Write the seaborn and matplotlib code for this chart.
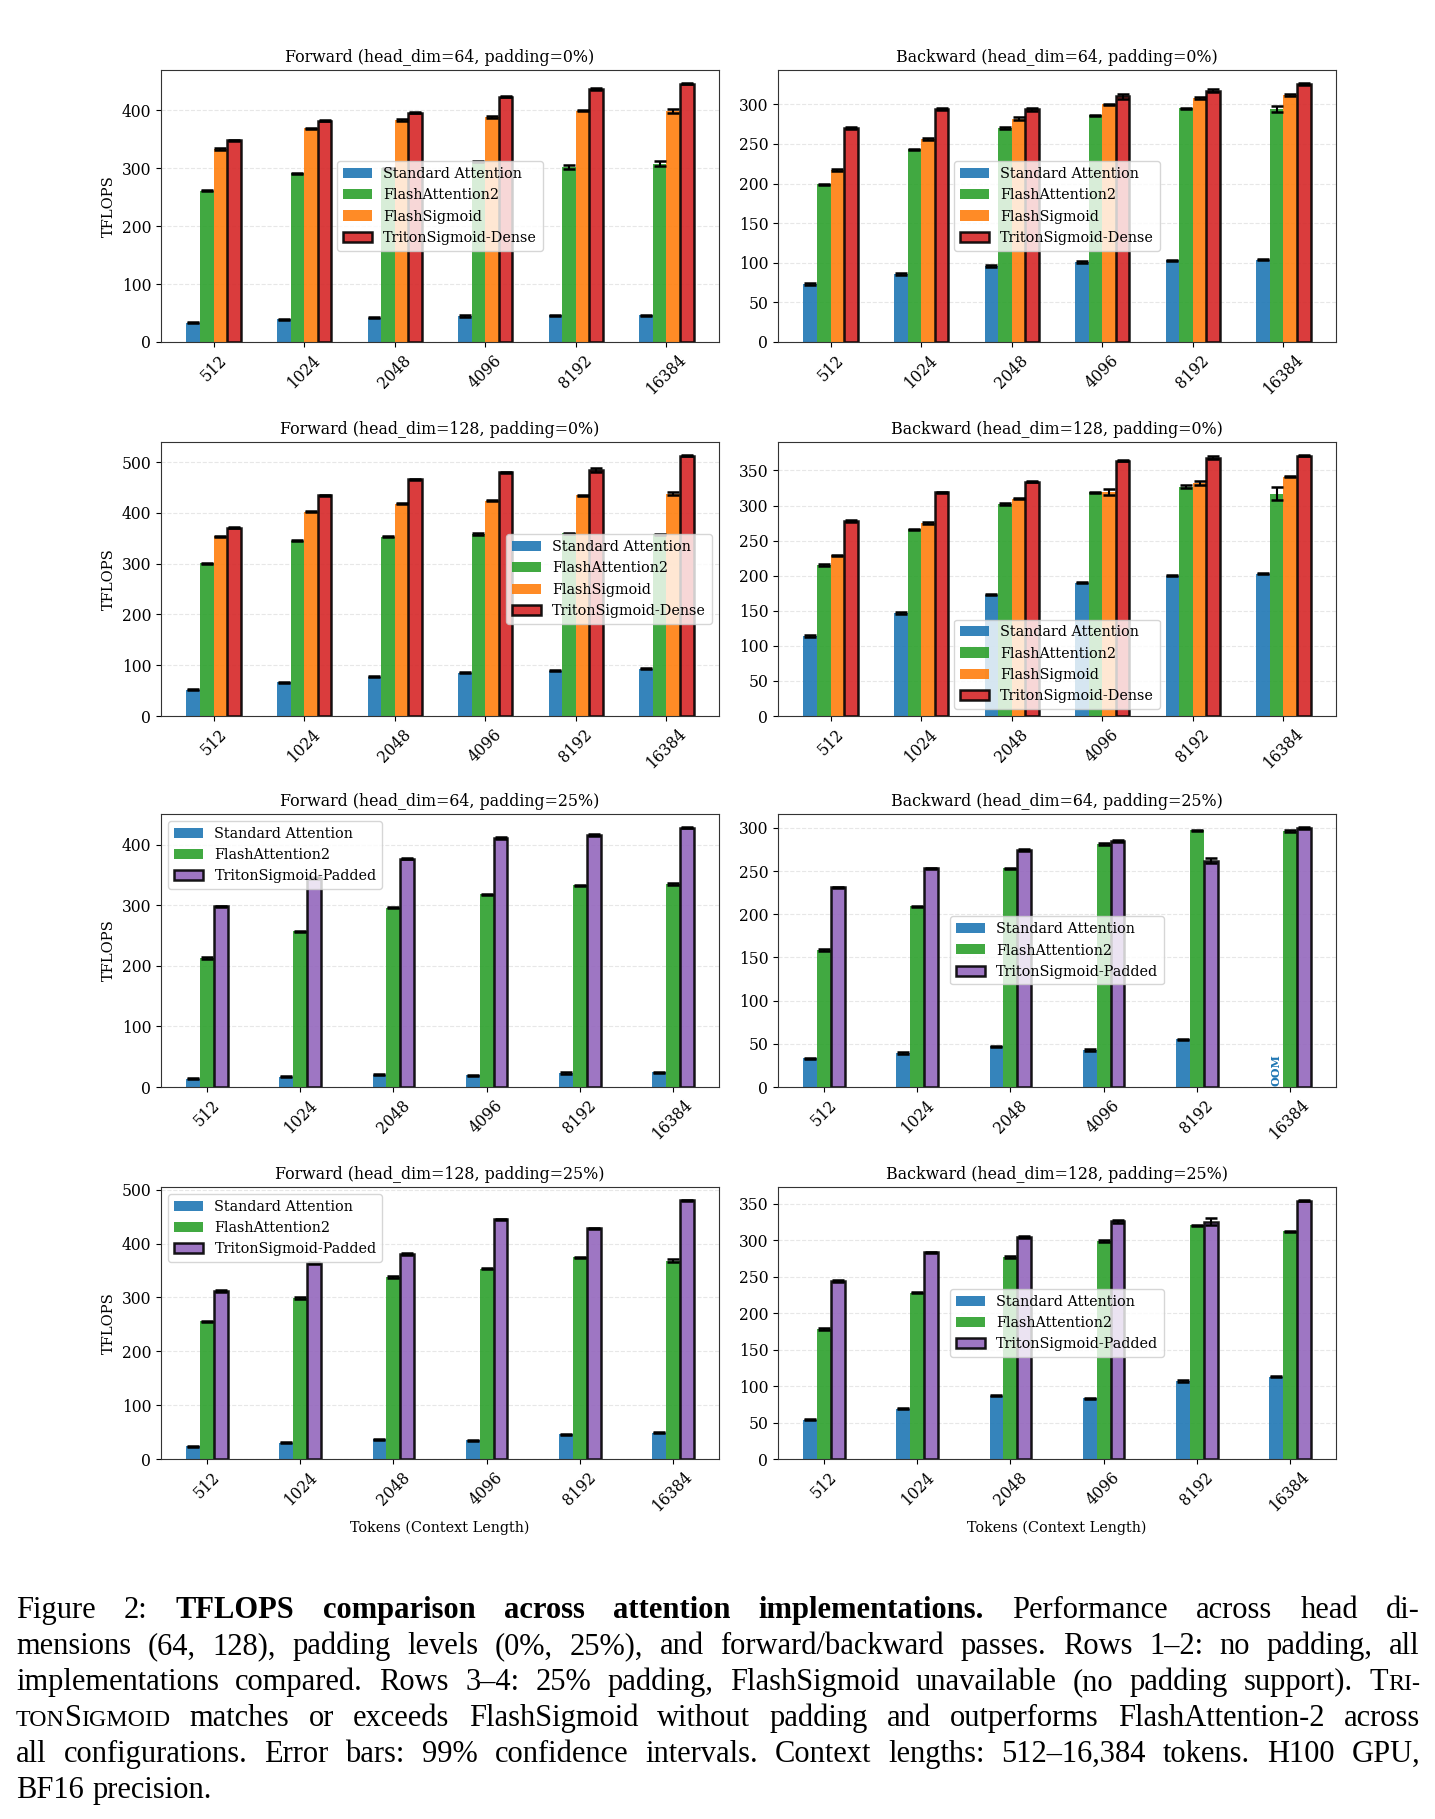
import numpy as np
import pandas as pd
import seaborn as sns
import matplotlib.pyplot as plt
from matplotlib.patches import Patch

# ---- data (TFLOPS) ----
tokens = ["512", "1024", "2048", "4096", "8192", "16384"]

impls_dense = ["Standard Attention", "FlashAttention2", "FlashSigmoid", "TritonSigmoid-Dense"]
impls_padded = ["Standard Attention", "FlashAttention2", "TritonSigmoid-Padded"]
colors_dense = ["#1f77b4", "#2ca02c", "#ff7f0e", "#d62728"]
colors_padded = ["#1f77b4", "#2ca02c", "#9467bd"]

# Forward, head_dim=64, padding=0%
fwd64_p0_std = [33, 39, 42, 45, 46, 46]
fwd64_p0_fa2 = [261, 291, 300, 311, 302, 308]
fwd64_p0_fs = [333, 369, 383, 388, 399, 399]
fwd64_p0_triton = [348, 382, 396, 423, 437, 446]
fwd64_p0_std_err = [1, 1, 1, 1, 1, 1]
fwd64_p0_fa2_err = [1, 1, 1, 1, 3, 4]
fwd64_p0_fs_err = [1, 1, 1, 2, 1, 3]
fwd64_p0_triton_err = [1, 1, 1, 1, 2, 1]

# Backward, head_dim=64, padding=0%
bwd64_p0_std = [73, 86, 96, 101, 103, 104]
bwd64_p0_fa2 = [199, 243, 270, 286, 295, 294]
bwd64_p0_fs = [217, 256, 282, 300, 308, 312]
bwd64_p0_triton = [270, 294, 294, 310, 317, 326]
bwd64_p0_std_err = [1, 1, 1, 1, 1, 1]
bwd64_p0_fa2_err = [1, 1, 1, 1, 1, 4]
bwd64_p0_fs_err = [1, 1, 2, 1, 1, 1]
bwd64_p0_triton_err = [1, 1, 2, 3, 2, 1]

# Forward, head_dim=128, padding=0%
fwd128_p0_std = [52, 66, 77, 85, 89, 93]
fwd128_p0_fa2 = [301, 345, 353, 358, 360, 358]
fwd128_p0_fs = [354, 402, 418, 424, 435, 438]
fwd128_p0_triton = [371, 435, 466, 480, 485, 513]
fwd128_p0_std_err = [1, 1, 1, 1, 1, 1]
fwd128_p0_fa2_err = [1, 1, 1, 2, 1, 1]
fwd128_p0_fs_err = [1, 1, 1, 1, 1, 3]
fwd128_p0_triton_err = [1, 1, 1, 1, 4, 1]

# Backward, head_dim=128, padding=0%
bwd128_p0_std = [114, 147, 173, 190, 200, 203]
bwd128_p0_fa2 = [215, 266, 302, 319, 327, 317]
bwd128_p0_fs = [229, 275, 310, 319, 332, 341]
bwd128_p0_triton = [278, 319, 334, 364, 368, 371]
bwd128_p0_std_err = [1, 1, 1, 1, 1, 1]
bwd128_p0_fa2_err = [1, 1, 1, 1, 2, 9]
bwd128_p0_fs_err = [1, 1, 1, 4, 3, 1]
bwd128_p0_triton_err = [1, 1, 1, 1, 2, 1]

# Forward, head_dim=64, padding=25%
fwd64_p25_std = [14, 17, 20, 19, 23, 24]
fwd64_p25_fa2 = [213, 257, 296, 318, 333, 335]
fwd64_p25_triton = [298, 345, 377, 411, 416, 428]
fwd64_p25_std_err = [1, 1, 1, 1, 1, 1]
fwd64_p25_fa2_err = [1, 1, 1, 1, 1, 2]
fwd64_p25_triton_err = [1, 1, 1, 1, 2, 1]

# Backward, head_dim=64, padding=25% (Standard Attention OOM at 16384)
bwd64_p25_std = [33, 39, 47, 43, 55, np.nan]
bwd64_p25_fa2 = [159, 209, 253, 281, 297, 296]
bwd64_p25_triton = [231, 253, 274, 285, 262, 300]
bwd64_p25_std_err = [1, 1, 1, 1, 1, np.nan]
bwd64_p25_fa2_err = [1, 1, 1, 1, 1, 1]
bwd64_p25_triton_err = [1, 1, 1, 1, 3, 1]

# Forward, head_dim=128, padding=25%
fwd128_p25_std = [24, 30, 37, 35, 46, 49]
fwd128_p25_fa2 = [256, 299, 338, 353, 375, 368]
fwd128_p25_triton = [312, 364, 380, 445, 428, 480]
fwd128_p25_std_err = [1, 1, 1, 1, 1, 1]
fwd128_p25_fa2_err = [1, 1, 1, 1, 1, 3]
fwd128_p25_triton_err = [1, 1, 2, 1, 1, 1]

# Backward, head_dim=128, padding=25%
bwd128_p25_std = [54, 69, 87, 83, 107, 113]
bwd128_p25_fa2 = [178, 228, 277, 299, 320, 312]
bwd128_p25_triton = [244, 283, 304, 326, 325, 354]
bwd128_p25_std_err = [1, 1, 1, 1, 1, 1]
bwd128_p25_fa2_err = [1, 1, 1, 1, 1, 1]
bwd128_p25_triton_err = [1, 1, 1, 2, 5, 1]

W, H = 1435, 1819
plt.rcParams["font.family"] = ["DejaVu Serif"]
plt.rcParams["font.size"] = 11
plt.rcParams["axes.edgecolor"] = "#333333"
fig = plt.figure(figsize=(W / 100, H / 100), dpi=100)


def panel_axes(col, row):
    # pixel boxes of the 2x4 grid
    lefts = [161, 778]
    tops = [70, 442, 814, 1187]
    bottoms = [342, 716, 1087, 1459]
    x0 = lefts[col] / W
    y0 = 1 - bottoms[row] / H
    return fig.add_axes([x0, y0, 558 / W, (bottoms[row] - tops[row]) / H])


def draw_panel(ax, title, names, colors, values, errors, loc):
    rows = []
    for name, vals in zip(names, values):
        for tok, v in zip(tokens, vals):
            rows.append({"tokens": tok, "impl": name, "tflops": v})
    df = pd.DataFrame(rows)
    df["height"] = df["tflops"].fillna(0)
    sns.barplot(data=df, x="tokens", y="height", hue="impl", order=tokens,
                hue_order=names, palette=colors, width=0.15 * len(names),
                saturation=1, alpha=0.9, linewidth=0, errorbar=None,
                legend=False, ax=ax)
    bars = list(ax.containers)
    for cont, name, vals, errs in zip(bars, names, values, errors):
        xs = np.array([p.get_x() + p.get_width() / 2 for p in cont.patches])
        if name.startswith("Triton"):
            for p in cont.patches:
                p.set_edgecolor("black")
                p.set_linewidth(1.8)
        ys = np.array(vals, dtype=float)
        es = np.array(errs, dtype=float)
        ok = ~np.isnan(ys)
        ax.errorbar(xs[ok], ys[ok], yerr=es[ok], fmt="none", ecolor="black",
                    elinewidth=1.5, capsize=4.5, capthick=1.8, zorder=5)
        for x, v in zip(xs, ys):
            if np.isnan(v):
                ax.text(x, 1, "OOM", rotation=90, color="#1f77b4", fontsize=8,
                        fontweight="bold", ha="center", va="bottom")
    handles = []
    for name, c in zip(names, colors):
        if name.startswith("Triton"):
            handles.append(Patch(facecolor=c, alpha=0.9, edgecolor="black", linewidth=1.8, label=name))
        else:
            handles.append(Patch(facecolor=c, alpha=0.9, label=name))
    ax.legend(handles=handles, loc=loc, fontsize=10.4)
    ax.set_title(title, fontsize=11.4)
    ax.yaxis.grid(True, linestyle="--", alpha=0.3)
    ax.set_axisbelow(True)
    ax.tick_params(axis="x", rotation=45)
    ax.tick_params(labelsize=11.2)
    ax.set_xlabel("")
    ax.set_ylabel("")


panels = [
    (0, 0, "Forward (head_dim=64, padding=0%)", impls_dense, colors_dense,
     [fwd64_p0_std, fwd64_p0_fa2, fwd64_p0_fs, fwd64_p0_triton],
     [fwd64_p0_std_err, fwd64_p0_fa2_err, fwd64_p0_fs_err, fwd64_p0_triton_err], "center"),
    (1, 0, "Backward (head_dim=64, padding=0%)", impls_dense, colors_dense,
     [bwd64_p0_std, bwd64_p0_fa2, bwd64_p0_fs, bwd64_p0_triton],
     [bwd64_p0_std_err, bwd64_p0_fa2_err, bwd64_p0_fs_err, bwd64_p0_triton_err], "center"),
    (0, 1, "Forward (head_dim=128, padding=0%)", impls_dense, colors_dense,
     [fwd128_p0_std, fwd128_p0_fa2, fwd128_p0_fs, fwd128_p0_triton],
     [fwd128_p0_std_err, fwd128_p0_fa2_err, fwd128_p0_fs_err, fwd128_p0_triton_err], "center right"),
    (1, 1, "Backward (head_dim=128, padding=0%)", impls_dense, colors_dense,
     [bwd128_p0_std, bwd128_p0_fa2, bwd128_p0_fs, bwd128_p0_triton],
     [bwd128_p0_std_err, bwd128_p0_fa2_err, bwd128_p0_fs_err, bwd128_p0_triton_err], "lower center"),
    (0, 2, "Forward (head_dim=64, padding=25%)", impls_padded, colors_padded,
     [fwd64_p25_std, fwd64_p25_fa2, fwd64_p25_triton],
     [fwd64_p25_std_err, fwd64_p25_fa2_err, fwd64_p25_triton_err], "upper left"),
    (1, 2, "Backward (head_dim=64, padding=25%)", impls_padded, colors_padded,
     [bwd64_p25_std, bwd64_p25_fa2, bwd64_p25_triton],
     [bwd64_p25_std_err, bwd64_p25_fa2_err, bwd64_p25_triton_err], "center"),
    (0, 3, "Forward (head_dim=128, padding=25%)", impls_padded, colors_padded,
     [fwd128_p25_std, fwd128_p25_fa2, fwd128_p25_triton],
     [fwd128_p25_std_err, fwd128_p25_fa2_err, fwd128_p25_triton_err], "upper left"),
    (1, 3, "Backward (head_dim=128, padding=25%)", impls_padded, colors_padded,
     [bwd128_p25_std, bwd128_p25_fa2, bwd128_p25_triton],
     [bwd128_p25_std_err, bwd128_p25_fa2_err, bwd128_p25_triton_err], "center"),
]

for col, row, title, names, colors, values, errors, loc in panels:
    ax = panel_axes(col, row)
    draw_panel(ax, title, names, colors, values, errors, loc)
    if col == 0:
        ax.set_ylabel("TFLOPS", fontsize=10.6)
    if row == 3:
        ax.set_xlabel("Tokens (Context Length)", fontsize=10.4)

# ---- caption, justified word by word ----
cap_font = "Liberation Serif"
cap_size = 22
caption_lines = [
    [("Figure 2:  ", "n"), ("TFLOPS comparison across attention implementations.", "b"),
     ("  Performance across head di-", "n")],
    [("mensions (64, 128), padding levels (0%, 25%), and forward/backward passes.  Rows 1\u20132:  no padding, all", "n")],
    [("implementations compared. Rows 3\u20134: 25% padding, FlashSigmoid unavailable (no padding support). T", "n"),
     ("RI-", "sc")],
    [("TON", "sc"), ("S", "n"), ("IGMOID", "sc"),
     (" matches or exceeds FlashSigmoid without padding and outperforms FlashAttention-2 across", "n")],
    [("all configurations.  Error bars: 99% confidence intervals.  Context lengths: 512\u201316,384 tokens.  H100 GPU,", "n")],
    [("BF16 precision.", "n")],
]
baselines = [1618, 1654, 1690, 1726, 1762, 1798]
renderer = fig.canvas.get_renderer()


def split_words(runs):
    words = [[]]
    for text, style in runs:
        parts = text.split(" ")
        for i, part in enumerate(parts):
            if i > 0 and words[-1]:
                words.append([])
            if part:
                words[-1].append((part, style))
    return [w for w in words if w]


for k, (runs, base) in enumerate(zip(caption_lines, baselines)):
    words = split_words(runs)
    placed = []
    for word in words:
        items = []
        for text, style in word:
            size = cap_size * 0.78 if style == "sc" else cap_size
            weight = "bold" if style == "b" else "normal"
            t = fig.text(0, 1 - base / H, text, fontsize=size, fontweight=weight,
                         family=cap_font, va="baseline", ha="left")
            items.append((t, t.get_window_extent(renderer).width))
        placed.append(items)
    widths = [sum(w for _, w in items) for items in placed]
    x_left, x_right = 16, 1420
    if k < len(caption_lines) - 1:
        gap = (x_right - x_left - sum(widths)) / (len(words) - 1)
    else:
        gap = cap_size * 100 / 72 * 0.3
    x = x_left
    for items, wsum in zip(placed, widths):
        xi = x
        for t, w in items:
            t.set_x(xi / W)
            xi += w
        x += wsum + gap

fig.savefig("out.png", dpi=100)
